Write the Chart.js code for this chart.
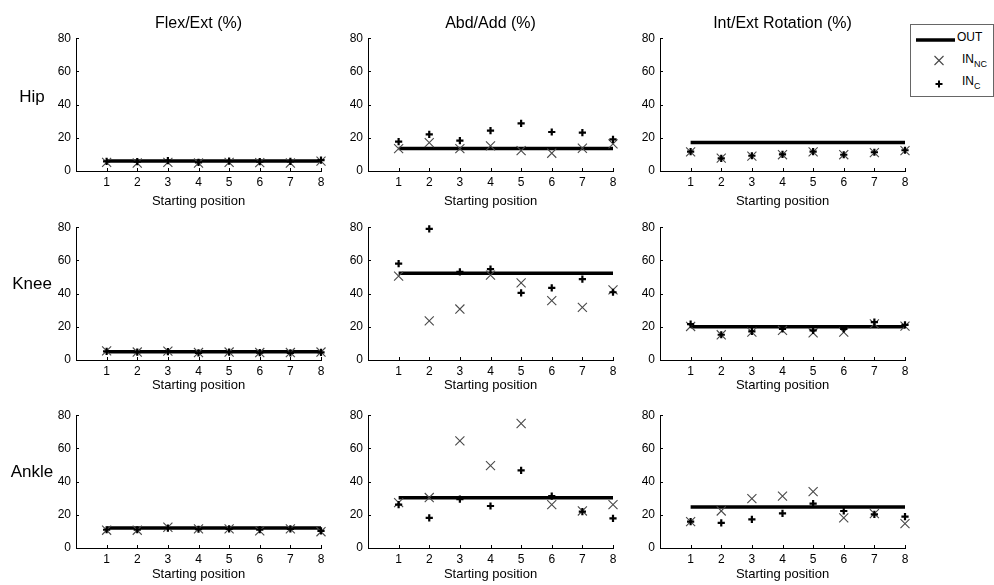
<!DOCTYPE html>
<html><head><meta charset="utf-8">
<script src="https://cdn.jsdelivr.net/npm/chart.js@4"></script>
<style>
body{margin:0;background:#fff;}
#wrap{position:relative;width:994px;height:585px;overflow:hidden;font-family:"Liberation Sans",Arial,sans-serif;background:#fff;}
canvas{position:absolute;}
.lbl{position:absolute;transform:translate(-50%,-50%);white-space:nowrap;color:#000;}
.lt{position:absolute;transform:translateY(-50%);white-space:nowrap;color:#000;font-size:12px;}
.lt sub{font-size:9px;vertical-align:-4px;line-height:0;}
#legend{position:absolute;left:910px;top:24px;width:82px;height:71px;border:1px solid #666;background:#fff;z-index:5;}
</style></head><body><div id="wrap"></div>
<script>
// ---- categories / ticks ----
const positions = [1, 2, 3, 4, 5, 6, 7, 8];
const yTicks = [0, 20, 40, 60, 80];
const columnTitles = ['Flex/Ext (%)', 'Abd/Add (%)', 'Int/Ext Rotation (%)'];
const jointLabels = ['Hip', 'Knee', 'Ankle'];
const xAxisTitle = 'Starting position';

// ---- Hip ----
const hipFlexOut = 6.0;
const hipFlexInNC = [5.2, 4.8, 5.2, 4.8, 5.2, 5.0, 4.8, 6.0];
const hipFlexInC  = [5.8, 5.6, 6.3, 5.2, 6.0, 5.6, 5.8, 6.6];
const hipAbdOut = 13.5;
const hipAbdInNC = [13.5, 17.1, 13.5, 15.1, 12.3, 10.7, 13.7, 16.3];
const hipAbdInC  = [17.7, 22.1, 18.3, 24.3, 28.7, 23.5, 23.1, 19.1];
const hipRotOut = 17.1;
const hipRotInNC = [11.5, 7.8, 9.0, 9.8, 11.5, 9.8, 11.1, 12.3];
const hipRotInC  = [11.7, 7.6, 9.2, 10.0, 11.7, 9.8, 11.3, 12.5];
// ---- Knee ----
const kneeFlexOut = 5.0;
const kneeFlexInNC = [5.5, 4.8, 5.3, 4.5, 4.8, 4.5, 4.5, 4.8];
const kneeFlexInC  = [5.2, 4.8, 5.0, 4.3, 4.8, 4.5, 4.3, 4.6];
const kneeAbdOut = 52.3;
const kneeAbdInNC = [50.5, 23.6, 30.7, 51.1, 46.5, 35.8, 31.7, 42.2];
const kneeAbdInC  = [58.0, 79.0, 53.1, 54.7, 40.4, 43.4, 48.7, 40.8];
const kneeRotOut = 20.0;
const kneeRotInNC = [20.2, 15.2, 16.8, 17.8, 16.4, 16.8, 21.8, 20.4];
const kneeRotInC  = [21.6, 15.2, 17.2, 18.8, 17.8, 18.8, 22.8, 21.2];
// ---- Ankle ----
const ankleFlexOut = 12.1;
const ankleFlexInNC = [10.7, 10.7, 12.5, 11.5, 11.5, 10.3, 11.5, 9.8];
const ankleFlexInC  = [11.0, 11.0, 12.0, 11.3, 11.5, 11.0, 11.5, 10.3];
const ankleAbdOut = 30.2;
const ankleAbdInNC = [27.3, 30.4, 64.5, 49.6, 75.0, 26.1, 22.3, 26.1];
const ankleAbdInC  = [26.1, 18.1, 29.5, 25.3, 46.8, 31.2, 21.9, 17.9];
const ankleRotOut = 24.7;
const ankleRotInNC = [15.9, 22.3, 29.7, 31.2, 34.0, 18.1, 20.7, 14.7];
const ankleRotInC  = [15.9, 15.1, 17.3, 20.9, 26.7, 22.3, 20.3, 18.9];

const panels = [
  [[hipFlexOut, hipFlexInNC, hipFlexInC], [hipAbdOut, hipAbdInNC, hipAbdInC], [hipRotOut, hipRotInNC, hipRotInC]],
  [[kneeFlexOut, kneeFlexInNC, kneeFlexInC], [kneeAbdOut, kneeAbdInNC, kneeAbdInC], [kneeRotOut, kneeRotInNC, kneeRotInC]],
  [[ankleFlexOut, ankleFlexInNC, ankleFlexInC], [ankleAbdOut, ankleAbdInNC, ankleAbdInC], [ankleRotOut, ankleRotInNC, ankleRotInC]]
];

// ---- layout ----
const colLeft = [76, 368, 660];
const rowTop = [38, 227, 415];
const plotW = 245, plotH = 133;
const padL = 45, padT = 12, padR = 12, padB = 40;
const titlePadBottom = [1.5, 6.5, 5.5];

const wrap = document.getElementById('wrap');

const inwardTicks = {
  id: 'inwardTicks',
  afterDraw(chart) {
    const {ctx, scales: {x, y}} = chart;
    ctx.save();
    ctx.strokeStyle = '#000';
    ctx.lineWidth = 1;
    ctx.beginPath();
    x.ticks.forEach(t => {
      const px = Math.round(x.getPixelForValue(t.value)) + 0.5;
      ctx.moveTo(px, y.bottom); ctx.lineTo(px, y.bottom - 3);
    });
    y.ticks.forEach(t => {
      const py = Math.round(y.getPixelForValue(t.value)) + 0.5;
      ctx.moveTo(x.left, py); ctx.lineTo(x.left + 3, py);
    });
    ctx.stroke();
    ctx.restore();
  }
};

const tickFont = {family: '"Liberation Sans", Arial, sans-serif', size: 12};

for (let r = 0; r < 3; r++) {
  for (let c = 0; c < 3; c++) {
    const [out, inNC, inC] = panels[r][c];
    const cv = document.createElement('canvas');
    const W = plotW + padL + padR, H = plotH + padT + padB;
    cv.width = W; cv.height = H;
    cv.style.left = (colLeft[c] - padL) + 'px';
    cv.style.top = (rowTop[r] - padT) + 'px';
    cv.style.width = W + 'px'; cv.style.height = H + 'px';
    wrap.appendChild(cv);
    new Chart(cv, {
      type: 'line',
      data: {
        datasets: [
          {label: 'OUT', data: positions.map(p => ({x: p, y: out})), borderColor: '#000', borderWidth: 3.5,
           pointRadius: 0, fill: false, order: 3, clip: false},
          {label: 'IN_NC', data: positions.map((p, i) => ({x: p, y: inNC[i]})), showLine: false,
           pointStyle: 'crossRot', pointRadius: 6.4, pointBorderColor: '#4a4a4a', pointBorderWidth: 1.1,
           borderColor: '#4a4a4a', order: 2, clip: false},
          {label: 'IN_C', data: positions.map((p, i) => ({x: p, y: inC[i]})), showLine: false,
           pointStyle: 'cross', pointRadius: 3.6, pointBorderColor: '#000', pointBorderWidth: 2.2,
           borderColor: '#000', order: 1, clip: false}
        ]
      },
      options: {
        responsive: false, animation: false, devicePixelRatio: 1,
        layout: {padding: {left: 0, top: padT, right: padR, bottom: 0}},
        plugins: {legend: {display: false}, tooltip: {enabled: false}},
        elements: {point: {hoverRadius: 0}},
        scales: {
          x: {
            type: 'linear', min: 0, max: 8,
            afterBuildTicks: s => { s.ticks = positions.map(v => ({value: v})); },
            afterFit: s => { s.height = padB; },
            grid: {display: false, drawTicks: false, tickLength: 0},
            border: {display: true, color: '#000', width: 1},
            ticks: {color: '#000', font: tickFont, padding: 4, maxRotation: 0, autoSkip: false},
            title: {display: true, text: xAxisTitle, color: '#000',
                    font: {family: '"Liberation Sans", Arial, sans-serif', size: 13},
                    padding: {top: 0, bottom: titlePadBottom[r]}}
          },
          y: {
            type: 'linear', min: 0, max: 80,
            afterBuildTicks: s => { s.ticks = yTicks.map(v => ({value: v})); },
            afterFit: s => { s.width = padL; },
            grid: {display: false, drawTicks: false, tickLength: 0},
            border: {display: true, color: '#000', width: 1},
            ticks: {color: '#000', font: tickFont, padding: 5}
          }
        }
      },
      plugins: [inwardTicks]
    });
  }
}

// column titles
const colCenters = colLeft.map(l => l + plotW / 2);
columnTitles.forEach((t, i) => {
  const d = document.createElement('div');
  d.className = 'lbl'; d.textContent = t;
  d.style.fontSize = '16px';
  d.style.left = colCenters[i] + 'px'; d.style.top = '23px';
  wrap.appendChild(d);
});
// row labels
const rowLabelY = [97, 284, 472];
jointLabels.forEach((t, i) => {
  const d = document.createElement('div');
  d.className = 'lbl'; d.textContent = t;
  d.style.fontSize = '17px';
  d.style.left = '32px'; d.style.top = rowLabelY[i] + 'px';
  wrap.appendChild(d);
});

// legend
const lg = document.createElement('div');
lg.id = 'legend';
wrap.appendChild(lg);
function add(html, cls, x, y) {
  const s = document.createElement('div');
  s.className = cls; s.innerHTML = html;
  s.style.left = x + 'px'; s.style.top = y + 'px';
  s.style.zIndex = 6;
  wrap.appendChild(s);
  return s;
}
add('<svg width="40" height="4"><line x1="0" y1="2" x2="39" y2="2" stroke="#000" stroke-width="3.5"/></svg>', 'lt', 916, 38);
add('OUT', 'lt', 957, 37);
add('<svg width="12" height="12"><line x1="1.5" y1="1.5" x2="10.5" y2="10.5" stroke="#444" stroke-width="1.1"/><line x1="10.5" y1="1.5" x2="1.5" y2="10.5" stroke="#444" stroke-width="1.1"/></svg>', 'lt', 933, 62);
add('IN<sub>NC</sub>', 'lt', 962, 59);
add('<svg width="10" height="10"><line x1="1.5" y1="5" x2="8.5" y2="5" stroke="#000" stroke-width="2"/><line x1="5" y1="1.5" x2="5" y2="8.5" stroke="#000" stroke-width="2"/></svg>', 'lt', 934, 85);
add('IN<sub>C</sub>', 'lt', 962, 81);
</script>
</body></html>
